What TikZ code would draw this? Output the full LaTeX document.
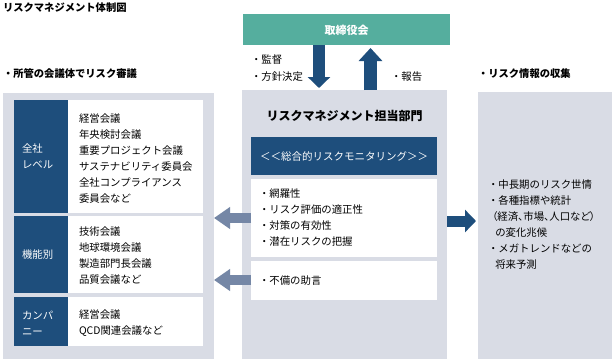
\documentclass[tikz,border=0pt]{standalone}
\usepackage{fontspec}
\setmainfont{Noto Sans CJK JP}
\newfontfamily\paltfont[RawFeature=+palt]{Noto Sans CJK JP}
\usetikzlibrary{arrows.meta}
\definecolor{panelgray}{HTML}{D9DCE5}
\definecolor{navyblue}{HTML}{1E4E7C}
\definecolor{boardteal}{HTML}{55AE9E}
\definecolor{arrowgray}{HTML}{7587A6}
\tikzset{
  box/.style={draw=none,inner sep=0pt,outer sep=0pt,anchor=north west},
  txt/.style={inner sep=0pt,outer sep=0pt,anchor=west,align=left,font=\fontsize{10.4}{16}\selectfont},
  head/.style={inner sep=0pt,outer sep=0pt,anchor=west,font=\fontsize{10.3}{12}\selectfont\bfseries},
  navyarrow/.style={draw=navyblue,line width=12pt,-{Triangle[length=11pt,width=22pt]}},
  grayarrow/.style={draw=arrowgray,line width=10pt,-{Triangle[length=16pt,width=21pt]}},
}
\begin{document}
\begin{tikzpicture}[x=1pt,y=-1pt]
\useasboundingbox (0,0) rectangle (612,359);
\fill[white] (0,0) rectangle (612,359);
% titles
\node[head] (title) at (3,8) {リスクマネジメント体制図};
\node[head] (ltitle) at (3,74) {・所管の会議体でリスク審議};
\node[head] (rtitle) at (478,74) {・リスク情報の収集};
% left panel
\node[box,fill=panelgray,minimum width=211pt,minimum height=266pt] (lpanel) at (3,93) {};
\node[box,fill=navyblue,minimum width=54pt,minimum height=113pt] (lab1) at (14,100) {};
\node[box,fill=white,minimum width=135pt,minimum height=113pt] (row1) at (68,100) {};
\node[box,fill=navyblue,minimum width=54pt,minimum height=77pt] (lab2) at (14,216) {};
\node[box,fill=white,minimum width=135pt,minimum height=77pt] (row2) at (68,216) {};
\node[box,fill=navyblue,minimum width=54pt,minimum height=49pt] (lab3) at (14,297) {};
\node[box,fill=white,minimum width=135pt,minimum height=49pt] (row3) at (68,297) {};
\node[txt,text=white] (lab1t) at (22,156) {全社\\レベル};
\node[txt,text=white] (lab2t) at (22,255) {機能別};
\node[txt,text=white] (lab3t) at (22,323) {カンパ\\ニー};
\node[txt] (row1t) at (79,158.5) {経営会議\\年央検討会議\\重要プロジェクト会議\\サステナビリティ委員会\\全社コンプライアンス\\委員会など};
\node[txt] (row2t) at (79,255.5) {技術会議\\地球環境会議\\製造部門長会議\\品質会議など};
\node[txt] (row3t) at (79,323) {経営会議\\QCD関連会議など};
% board
\node[box,fill=boardteal,minimum width=207pt,minimum height=31pt] (board) at (243,14) {};
\node[inner sep=0pt,text=white,font=\fontsize{11}{12}\selectfont\bfseries] (boardt) at (346.5,30) {取締役会};
% center panel
\node[box,fill=panelgray,minimum width=205pt,minimum height=269pt] (cpanel) at (242,90) {};
\node[inner sep=0pt,font=\fontsize{12}{14}\selectfont\bfseries] (ctitle) at (344.5,116) {リスクマネジメント担当部門};
\node[box,fill=navyblue,minimum width=186pt,minimum height=38pt] (band) at (251,137) {};
\node[inner sep=0pt,text=white,font=\fontsize{10.5}{12}\selectfont] (bandt) at (344,156) {＜＜総合的リスクモニタリング＞＞};
\node[box,fill=white,minimum width=186pt,minimum height=78pt] (cbox1) at (251,179) {};
\node[box,fill=white,minimum width=186pt,minimum height=39pt] (cbox2) at (251,261) {};
\node[txt] (cbox1t) at (259,218) {・網羅性\\・リスク評価の適正性\\・対策の有効性\\・潜在リスクの把握};
\node[txt] (cbox2t) at (259,281) {・不備の助言};
% right panel
\node[box,fill=panelgray,minimum width=134pt,minimum height=267pt] (rpanel) at (478,92) {};
\node[txt] (rpt) at (488,225) {・中長期のリスク世情\\・各種指標や統計\\\hspace*{0.4em}{\paltfont （経済、市場、人口など）}\\\hspace*{0.7em}の変化兆候\\・メガトレンドなどの\\\hspace*{0.7em}将来予測};
% labels
\node[txt] (l1) at (251,60) {・監督};
\node[txt] (l2) at (251,77) {・方針決定};
\node[txt] (l3) at (391,77) {・報告};
% arrows
\coordinate (d1) at (319,45);
\coordinate (d2) at (319,88);
\coordinate (u1) at (370.5,90);
\coordinate (u2) at (370.5,48);
\draw[navyarrow] (d1) -- (d2);
\draw[navyarrow,line width=13pt,-{Triangle[length=13pt,width=23pt]}] (u1) -- (u2);
\coordinate (la1s) at (251,218);
\coordinate (la1e) at (214,218);
\coordinate (la2s) at (251,280);
\coordinate (la2e) at (214,280);
\draw[grayarrow] (la1s) -- (la1e);
\draw[grayarrow] (la2s) -- (la2e);
\coordinate (ra1) at (447,221);
\coordinate (ra2) at (476,221);
\draw[navyarrow,line width=11pt] (ra1) -- (ra2);
\end{tikzpicture}
\end{document}
